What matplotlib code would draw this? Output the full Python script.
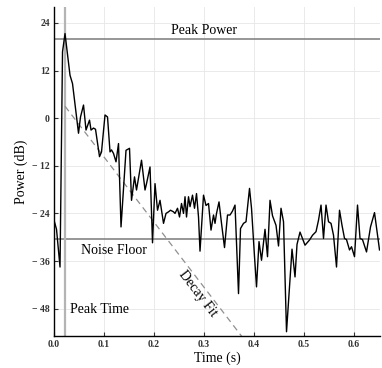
import matplotlib
matplotlib.use("Agg")
import matplotlib.pyplot as plt

time_s = [
    0.000, 0.005, 0.012, 0.017, 0.022, 0.032, 0.037, 0.049, 0.053, 0.059,
    0.064, 0.071, 0.074, 0.079, 0.083, 0.091, 0.095, 0.102, 0.107, 0.112,
    0.115, 0.119, 0.124, 0.129, 0.134, 0.144, 0.151, 0.155, 0.161, 0.165,
    0.175, 0.182, 0.185, 0.192, 0.197, 0.202, 0.207, 0.212, 0.219, 0.224,
    0.229, 0.233, 0.239, 0.242, 0.247, 0.251, 0.255, 0.259, 0.262, 0.265,
    0.269, 0.272, 0.277, 0.281, 0.285, 0.289, 0.292, 0.299, 0.304, 0.309,
    0.314, 0.319, 0.322, 0.325, 0.330, 0.335, 0.341, 0.347, 0.352, 0.357,
    0.362, 0.369, 0.373, 0.379, 0.384, 0.391, 0.395, 0.401, 0.405, 0.410,
    0.415, 0.422, 0.427, 0.432, 0.437, 0.444, 0.449, 0.454, 0.459, 0.465,
    0.476, 0.482, 0.486, 0.492, 0.502, 0.511, 0.517, 0.524, 0.529, 0.534,
    0.539, 0.544, 0.549, 0.554, 0.559, 0.565, 0.571, 0.576, 0.581, 0.585,
    0.591, 0.595, 0.601, 0.607, 0.612, 0.617, 0.625, 0.633, 0.641, 0.651,
]
power_db = [
    -25.7, -28.0, -37.5, 16.7, 21.3, 10.8, 8.7, -3.8, 0.3, 3.3,
    -3.0, -0.5, -3.0, -2.5, -2.8, -9.7, -8.5, 0.8, 0.3, -8.5,
    -8.0, -8.9, -11.0, -6.4, -27.4, -8.1, -7.6, -20.7, -14.8, -18.1,
    -10.6, -18.1, -16.5, -12.3, -31.4, -16.5, -23.2, -20.7, -26.5, -24.0,
    -23.6, -23.2, -23.6, -24.0, -22.7, -24.9, -21.5, -24.0, -19.8, -24.9,
    -19.8, -22.3, -19.4, -22.7, -19.0, -24.9, -33.5, -19.4, -22.0, -21.5,
    -28.2, -24.4, -26.5, -24.0, -21.1, -26.5, -32.6, -24.4, -24.4, -23.4,
    -21.9, -44.2, -27.8, -26.5, -26.1, -17.7, -22.7, -34.9, -42.5, -31.1,
    -35.8, -28.0, -34.9, -20.7, -24.6, -27.0, -32.2, -22.7, -26.1, -53.8,
    -33.0, -40.0, -31.8, -28.7, -32.0, -30.7, -29.5, -28.6, -25.7, -21.9,
    -30.3, -21.9, -26.1, -26.5, -29.5, -37.5, -23.2, -27.0, -30.3, -30.6,
    -33.2, -32.4, -34.9, -21.9, -30.3, -30.6, -33.7, -27.4, -23.8, -33.2,
]

peak_power = 20.0
peak_time = 0.022
noise_floor = -30.5
fit_t = [0.022, 0.65]
fit_db = [3.0, -100.0]

x_ticks = [0.0, 0.1, 0.2, 0.3, 0.4, 0.5, 0.6]
y_ticks = [-48, -36, -24, -12, 0, 12, 24]

plt.rcParams['font.family'] = ['Liberation Serif', 'DejaVu Serif']

fig = plt.figure(figsize=(3.82, 3.68), dpi=100)
ax = fig.add_axes([0.1414, 0.0878, 0.8534, 0.8932])

# 기준선
ax.axhline(peak_power, color='#858585', lw=1.2, zorder=2)
ax.axhline(noise_floor, color='#858585', lw=1.2, zorder=2)
ax.axvline(peak_time, color='#b4b4b4', lw=1.6, zorder=2)
ax.plot(fit_t, fit_db, color='#909090', lw=0.9, ls=(0, (5, 3.5)), zorder=2)

# 신호
ax.plot(time_s, power_db, color='black', lw=1.0, zorder=3)

# 주석
ax.text(0.30, 21.1, 'Peak Power', ha='center', va='baseline', fontsize=10)
ax.text(0.119, -34.1, 'Noise Floor', ha='center', va='baseline', fontsize=10)
ax.text(0.031, -49.0, 'Peak Time', ha='left', va='baseline', fontsize=10)
ax.text(0.288, -44.1, 'Decay Fit', ha='center', va='center', fontsize=10,
        rotation=-52.5, rotation_mode='anchor')

ax.set_xlim(0, 0.652)
ax.set_ylim(-54.8, 28)
ax.set_xticks(x_ticks)
ax.set_xticklabels([f'{v:.1f}' for v in x_ticks], fontsize=7, fontweight='bold')
ax.set_yticks(y_ticks)
ax.set_yticklabels([str(v).replace('-', '\u2212 ') for v in y_ticks],
                   fontsize=7, fontweight='bold')
ax.tick_params(direction='in', length=3, width=0.8, pad=3, colors='#333333')

ax.grid(True, color='#e6e6e6', lw=0.6, zorder=0)
ax.set_axisbelow(True)
for side in ['top', 'right']:
    ax.spines[side].set_visible(False)
for side in ['left', 'bottom']:
    ax.spines[side].set_linewidth(1.0)

ax.set_xlabel('Time (s)', fontsize=10, labelpad=2)
ax.set_ylabel('Power (dB)', fontsize=10, labelpad=3)

fig.savefig('out.png', dpi=100)
